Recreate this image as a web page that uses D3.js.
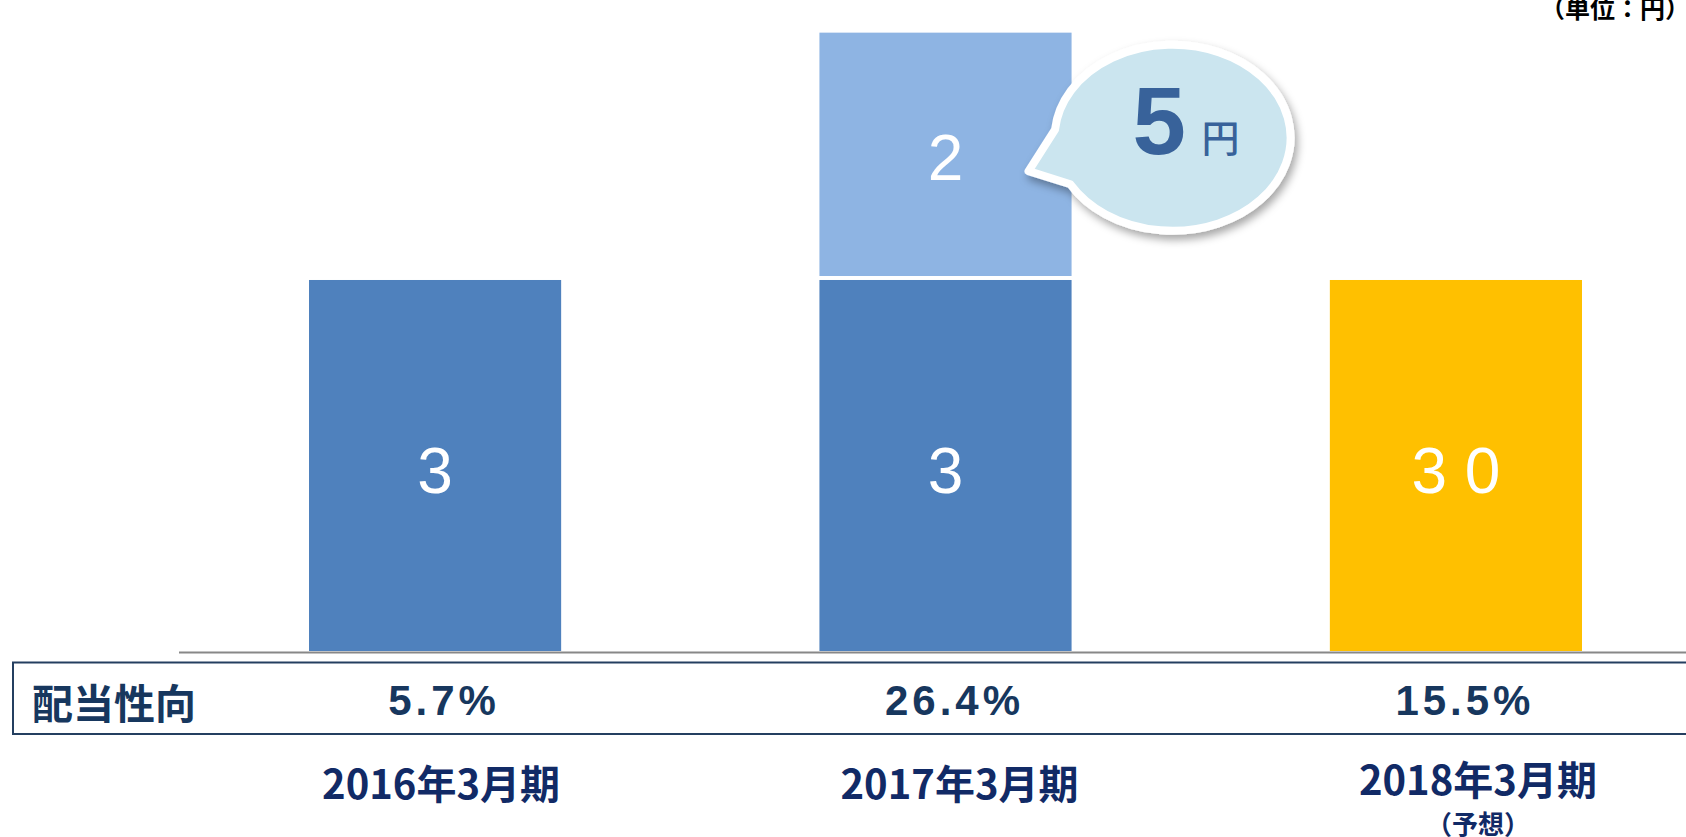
<!DOCTYPE html>
<html>
<head>
<meta charset="utf-8">
<script src="https://cdn.jsdelivr.net/npm/d3@7"></script>
<style>
  body { margin: 0; background: #fff; }
  svg { display: block; }
</style>
</head>
<body>
<div id="chart"></div>
<script>
// data
var categories = ["2016年3月期", "2017年3月期", "2018年3月期"];
var categoryNotes = ["", "", "（予想）"];
var baseDividend = [3, 3, 3];
var extraDividend = [0, 2, 0];
var baseLabels = ["3", "3", "3 0"];
var extraLabels = ["", "2", ""];
var payoutRatios = ["5.7%", "26.4%", "15.5%"];
var payoutTitle = "配当性向";
var unitLabel = "（単位：円）";
var bubbleValue = "5";
var bubbleUnit = "円";

var width = 1686, height = 837;
var baseY = 651;

var svg = d3.select("#chart").append("svg")
    .attr("width", width)
    .attr("height", height);

var defs = svg.append("defs");
var shadow = defs.append("filter").attr("id", "shadow")
    .attr("x", "-20%").attr("y", "-20%").attr("width", "140%").attr("height", "150%");
shadow.append("feDropShadow")
    .attr("dx", 3).attr("dy", 5)
    .attr("stdDeviation", 4)
    .attr("flood-color", "#000")
    .attr("flood-opacity", 0.35);

// scales
var x = d3.scaleBand()
    .domain(categories)
    .range([309, 1582])
    .paddingInner(0.506)
    .paddingOuter(0);
var y = d3.scaleLinear()
    .domain([0, 5])
    .range([baseY, baseY - 5 * 123.67]);
var bw = x.bandwidth();

var rows = categories.map(function(c, i) {
    return {cat: c, base: baseDividend[i], extra: extraDividend[i],
            baseLabel: baseLabels[i], extraLabel: extraLabels[i],
            ratio: payoutRatios[i], note: categoryNotes[i], i: i};
});
var baseColor = function(d) { return d.i === 2 ? "#ffc000" : "#4f81bd"; };

// base bars
svg.append("g").selectAll("rect")
    .data(rows)
    .enter().append("rect")
    .attr("x", function(d) { return x(d.cat); })
    .attr("y", function(d) { return y(d.base); })
    .attr("width", bw)
    .attr("height", function(d) { return y(0) - y(d.base); })
    .style("fill", baseColor);

// stacked extra bars
svg.append("g").selectAll("rect")
    .data(rows.filter(function(d) { return d.extra > 0; }))
    .enter().append("rect")
    .attr("x", function(d) { return x(d.cat); })
    .attr("y", function(d) { return y(d.base + d.extra); })
    .attr("width", bw)
    .attr("height", function(d) { return y(d.base) - y(d.base + d.extra) - 4; })
    .style("fill", "#8eb4e3");

// bar labels
svg.append("g").selectAll("text")
    .data(rows)
    .enter().append("text")
    .attr("x", function(d) { return x(d.cat) + bw / 2; })
    .attr("y", function(d) { return (y(0) + y(d.base)) / 2 + 6; })
    .attr("text-anchor", "middle")
    .attr("dominant-baseline", "central")
    .style("font-family", "'Liberation Sans', Arial, sans-serif")
    .style("font-size", "64px")
    .style("fill", "#fff")
    .style("white-space", "pre")
    .text(function(d) { return d.baseLabel; });

svg.append("g").selectAll("text")
    .data(rows.filter(function(d) { return d.extra > 0; }))
    .enter().append("text")
    .attr("x", function(d) { return x(d.cat) + bw / 2; })
    .attr("y", function(d) { return (y(d.base) + y(d.base + d.extra)) / 2 + 2; })
    .attr("text-anchor", "middle")
    .attr("dominant-baseline", "central")
    .style("font-family", "'Liberation Sans', Arial, sans-serif")
    .style("font-size", "64px")
    .style("fill", "#fff")
    .text(function(d) { return d.extraLabel; });

// baseline
svg.append("line")
    .attr("x1", 179).attr("x2", width)
    .attr("y1", baseY + 1.5).attr("y2", baseY + 1.5)
    .style("stroke", "#888")
    .style("stroke-width", 2);

// speech bubble over the 2017 bar
var cx = x(categories[1]) + bw + 101, cy = y(4.15);
var rx = 118, ry = 93;
var a1 = 185 * Math.PI / 180, a2 = 150 * Math.PI / 180;
var p1 = [cx + rx * Math.cos(a1), cy + ry * Math.sin(a1)];
var p2 = [cx + rx * Math.cos(a2), cy + ry * Math.sin(a2)];
var tip = [x(categories[1]) + bw - 43, y(3.88)];
var bubblePath = "M" + p1[0] + "," + p1[1] +
    "L" + tip[0] + "," + tip[1] +
    "L" + p2[0] + "," + p2[1] +
    "A" + rx + "," + ry + " 0 1 0 " + p1[0] + "," + p1[1] + "Z";
svg.append("path")
    .attr("d", bubblePath)
    .style("fill", "#cbe5ef")
    .style("stroke", "#fff")
    .style("stroke-width", 8)
    .style("stroke-linejoin", "round")
    .attr("filter", "url(#shadow)");
svg.append("text")
    .attr("x", cx - 40).attr("y", cy + 16)
    .style("font-family", "'Liberation Sans', Arial, sans-serif")
    .style("font-weight", "bold")
    .style("font-size", "96px")
    .style("fill", "#38629a")
    .text(bubbleValue);
svg.append("text")
    .attr("x", cx + 29).attr("y", cy + 14)
    .style("font-family", "'Noto Sans CJK JP', sans-serif")
    .style("font-weight", "500")
    .style("font-size", "38px")
    .style("fill", "#38629a")
    .text(bubbleUnit);

// payout ratio table row
svg.append("rect")
    .attr("x", 13).attr("y", 662.5)
    .attr("width", width + 20).attr("height", 71.5)
    .style("fill", "none")
    .style("stroke", "#243f60")
    .style("stroke-width", 2);
svg.append("text")
    .attr("x", 32).attr("y", 701)
    .attr("dominant-baseline", "central")
    .style("font-family", "'Noto Sans CJK JP', sans-serif")
    .style("font-weight", "bold")
    .style("font-size", "41px")
    .style("fill", "#17375e")
    .text(payoutTitle);
svg.append("g").selectAll("text")
    .data(rows)
    .enter().append("text")
    .attr("x", function(d) { return x(d.cat) + bw / 2 + 9; })
    .attr("y", 700)
    .attr("text-anchor", "middle")
    .attr("dominant-baseline", "central")
    .style("font-family", "'Liberation Sans', Arial, sans-serif")
    .style("font-weight", "bold")
    .style("font-size", "42px")
    .style("letter-spacing", "4px")
    .style("fill", "#17375e")
    .text(function(d) { return d.ratio; });

// category labels
svg.append("g").selectAll("text")
    .data(rows)
    .enter().append("text")
    .attr("x", function(d) { return x(d.cat) + bw / 2 + 6 + d.i * 8; })
    .attr("y", function(d) { return d.note ? 778 : 782; })
    .attr("text-anchor", "middle")
    .attr("dominant-baseline", "central")
    .style("font-family", "'Noto Sans CJK JP', sans-serif")
    .style("font-weight", "bold")
    .style("font-size", "40px")
    .style("fill", "#112a66")
    .text(function(d) { return d.cat; });
svg.append("g").selectAll("text")
    .data(rows.filter(function(d) { return d.note; }))
    .enter().append("text")
    .attr("x", function(d) { return x(d.cat) + bw / 2 + 22; })
    .attr("y", 822)
    .attr("text-anchor", "middle")
    .attr("dominant-baseline", "central")
    .style("font-family", "'Noto Sans CJK JP', sans-serif")
    .style("font-weight", "bold")
    .style("font-size", "26px")
    .style("fill", "#112a66")
    .text(function(d) { return d.note; });

// unit label, cut by the top edge as in the reference
svg.append("text")
    .attr("x", 1690).attr("y", 18)
    .attr("text-anchor", "end")
    .style("font-family", "'Noto Sans CJK JP', sans-serif")
    .style("font-weight", "bold")
    .style("font-size", "25px")
    .style("fill", "#000")
    .text(unitLabel);
</script>
</body>
</html>
